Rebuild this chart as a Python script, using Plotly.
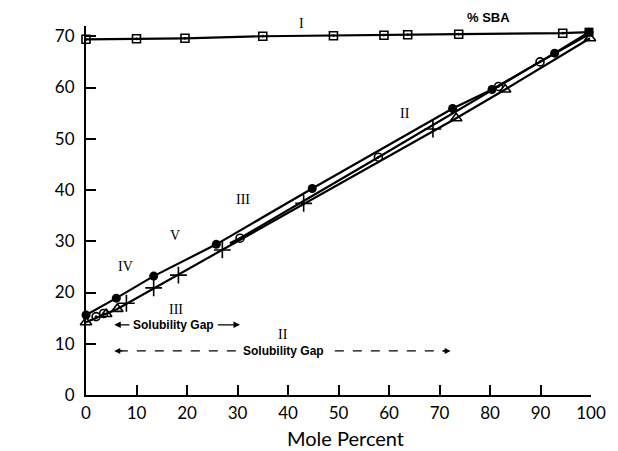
import plotly.graph_objects as go

# ---- data ----
sba_x = [0, 10, 19.6, 35, 49, 59, 63.7, 73.8, 94.4]
sba_y = [69.4, 69.5, 69.6, 70.0, 70.1, 70.2, 70.3, 70.4, 70.6]
sba_end_x = [99.6]
sba_end_y = [70.8]

filled_x = [0, 6, 13.4, 25.8, 44.8, 72.6, 80.4, 92.8, 99.6]
filled_y = [15.6, 18.9, 23.2, 29.4, 40.3, 55.9, 59.6, 66.7, 70.8]

open_x = [2, 3.5, 30.5, 57.9, 81.7, 89.9]
open_y = [15.3, 15.9, 30.6, 46.4, 60.2, 65.0]
open_line_x = [28.5, 30.5, 57.9, 81.7, 89.9, 99.6]
open_line_y = [29.6, 30.6, 46.4, 60.2, 65.0, 70.4]

cross_x = [8, 13.4, 18.3, 27, 43.1, 68.7]
cross_y = [17.9, 20.9, 23.4, 28.3, 37.4, 51.9]

tri_x = [0, 4, 6.2, 73.3, 83, 99.8]
tri_y = [14.2, 15.8, 16.8, 54.0, 59.6, 69.6]

x_ticks = list(range(0, 101, 10))
y_ticks = list(range(0, 71, 10))

fig = go.Figure()
line = dict(color="black", width=2.2)

fig.add_trace(go.Scatter(x=sba_x + sba_end_x, y=sba_y + sba_end_y, mode="lines", line=line))
fig.add_trace(go.Scatter(x=sba_x, y=sba_y, mode="markers",
                         marker=dict(symbol="square-open-dot", size=8, color="black", line=dict(width=1.6))))
fig.add_trace(go.Scatter(x=sba_end_x, y=sba_end_y, mode="markers",
                         marker=dict(symbol="square", size=9, color="black")))

fig.add_trace(go.Scatter(x=filled_x, y=filled_y, mode="lines+markers", line=line,
                         marker=dict(symbol="circle", size=9, color="black")))
fig.add_trace(go.Scatter(x=open_line_x, y=open_line_y, mode="lines", line=line))
fig.add_trace(go.Scatter(x=open_x, y=open_y, mode="markers",
                         marker=dict(symbol="circle-open-dot", size=8, color="black", line=dict(width=1.6))))
fig.add_trace(go.Scatter(x=tri_x, y=tri_y, mode="lines+markers", line=line,
                         marker=dict(symbol="triangle-up-open", size=10, color="black", line=dict(width=1.6))))
fig.add_trace(go.Scatter(x=cross_x, y=cross_y, mode="markers",
                         marker=dict(symbol="cross-thin-open", size=12, color="black", line=dict(width=1.6, color="black"))))

for tr in fig.data:
    tr.cliponaxis = False
    tr.showlegend = False

numfont = dict(family="Lato, sans-serif", size=17, color="black")
fig.update_xaxes(range=[0, 100], tickvals=x_ticks, ticks="inside", ticklen=10, tickwidth=1.5,
                 tickcolor="black", showline=True, linecolor="black", linewidth=2,
                 showgrid=False, zeroline=False, tickfont=numfont, ticklabelstandoff=2)
fig.update_yaxes(range=[0, 72], tickvals=y_ticks, ticks="inside", ticklen=10, tickwidth=1.5,
                 tickcolor="black", showline=True, linecolor="black", linewidth=2,
                 showgrid=False, zeroline=False, tickfont=numfont, ticklabelstandoff=6)

serif = dict(family="Liberation Serif, serif", size=14, color="black")
labels = [("II", 63.1, 55.0), ("III", 31.1, 38.2), ("V", 17.7, 31.2),
          ("IV", 7.8, 25.0), ("III", 17.9, 16.6), ("II", 39.0, 11.9)]
for t, x, y in labels:
    fig.add_annotation(x=x, y=y, text=t, showarrow=False, font=serif)
fig.add_annotation(x=42.7, y=1.008, yref="paper", yanchor="middle", text="I", showarrow=False, font=serif)
fig.add_annotation(x=79.8, y=1.022, yref="paper", yanchor="middle", text="<b>% SBA</b>", showarrow=False,
                   font=dict(family="Liberation Sans, sans-serif", size=13, color="black"))

gapfont = dict(family="Liberation Sans, sans-serif", size=12, color="black")
# upper solubility gap
fig.add_annotation(x=17.4, y=13.7, text="<b>Solubility Gap</b>", showarrow=False, font=gapfont)
fig.add_annotation(x=5.6, y=13.7, ax=8.9, ay=13.7, axref="x", ayref="y", text="", showarrow=True,
                   arrowhead=2, arrowsize=1, arrowwidth=1.3, arrowcolor="black")
fig.add_annotation(x=30.5, y=13.7, ax=25.8, ay=13.7, axref="x", ayref="y", text="", showarrow=True,
                   arrowhead=2, arrowsize=1, arrowwidth=1.3, arrowcolor="black")
# lower solubility gap
fig.add_shape(type="line", x0=6.5, x1=71.3, y0=8.6, y1=8.6, line=dict(color="black", width=1.2, dash="dash"))
fig.add_annotation(x=39.1, y=8.6, text="<b>Solubility Gap</b>", showarrow=False, font=gapfont,
                   bgcolor="white", borderpad=3)
fig.add_annotation(x=5.6, y=8.6, ax=7.5, ay=8.6, axref="x", ayref="y", text="", showarrow=True,
                   arrowhead=2, arrowsize=1, arrowwidth=1.2, arrowcolor="black")
fig.add_annotation(x=72.2, y=8.6, ax=70.3, ay=8.6, axref="x", ayref="y", text="", showarrow=True,
                   arrowhead=2, arrowsize=1, arrowwidth=1.2, arrowcolor="black")

# axis titles
fig.add_annotation(x=51.3, y=0, yref="paper", yanchor="top", yshift=-29, text="Mole Percent",
                   showarrow=False, font=dict(family="Lato, sans-serif", size=20, color="black"))
fig.add_annotation(x=-12.6, y=35.1, text="V-V'", textangle=-90, showarrow=False,
                   font=dict(family="Lato, sans-serif", size=21, color="black"))

fig.update_layout(width=618, height=451, margin=dict(l=86, r=17, t=26, b=56),
                  plot_bgcolor="white", paper_bgcolor="white")
fig.write_html("out.html")
